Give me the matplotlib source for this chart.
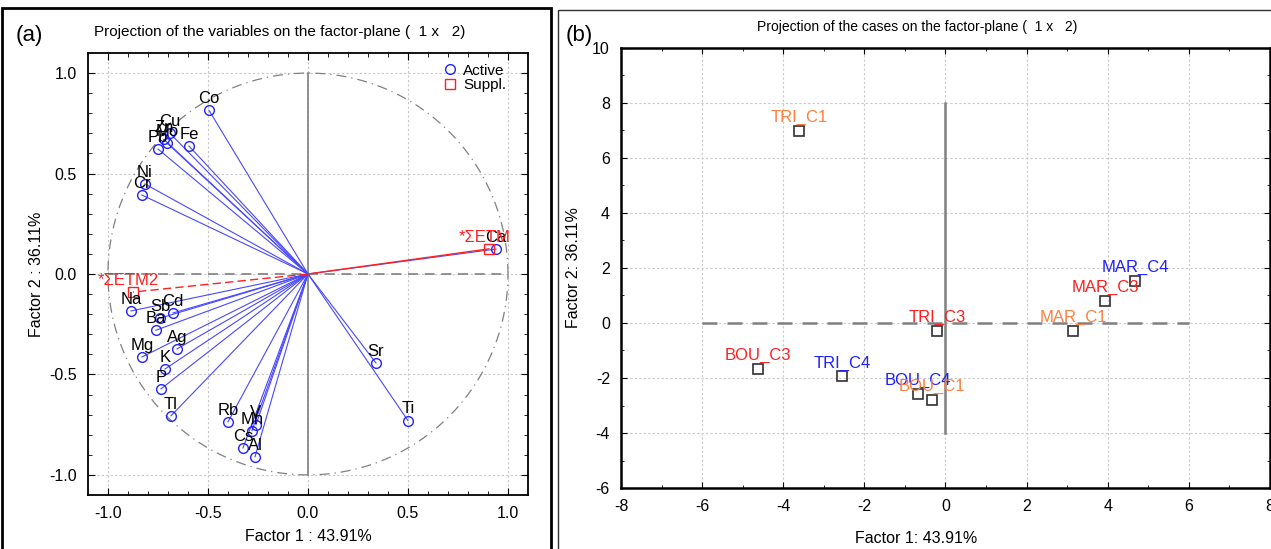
import numpy as np
import matplotlib
matplotlib.use('Agg')
import matplotlib.pyplot as plt
from matplotlib.patches import Rectangle
from matplotlib.lines import Line2D

# factor loadings of the active variables (factor 1, factor 2)
var_names = ['Co', 'Cu', 'Zn', 'Mo', 'Pb', 'Fe', 'Ni', 'Cr', 'Na', 'Sb', 'Cd', 'Ba',
             'Mg', 'Ag', 'K', 'P', 'Tl', 'Rb', 'Mn', 'V', 'Cs', 'Al', 'Sr', 'Ti', 'Ca']
var_f1 = [-0.495, -0.69, -0.72, -0.705, -0.75, -0.595, -0.815, -0.83, -0.885, -0.74, -0.675, -0.76,
          -0.83, -0.655, -0.715, -0.735, -0.685, -0.40, -0.28, -0.26, -0.325, -0.265, 0.34, 0.50, 0.94]
var_f2 = [0.815, 0.70, 0.67, 0.652, 0.622, 0.637, 0.448, 0.393, -0.184, -0.22, -0.194, -0.28,
          -0.413, -0.373, -0.473, -0.572, -0.706, -0.736, -0.78, -0.75, -0.866, -0.91, -0.443, -0.73, 0.124]

# supplementary variables
sup_names = ['*ΣETM', '*ΣETM2']
sup_f1 = [0.905, -0.875]
sup_f2 = [0.125, -0.09]

# factor scores of the cases
case_names = ['TRI_C1', 'MAR_C4', 'MAR_C3', 'MAR_C1', 'TRI_C3', 'BOU_C3', 'TRI_C4', 'BOU_C4', 'BOU_C1']
case_f1 = [-3.6, 4.68, 3.94, 3.15, -0.2, -4.63, -2.54, -0.69, -0.34]
case_f2 = [6.98, 1.53, 0.80, -0.29, -0.29, -1.67, -1.93, -2.58, -2.8]
case_site = ['C1', 'C4', 'C3', 'C1', 'C3', 'C3', 'C4', 'C4', 'C1']

site_colors = {'C1': '#ff7f3f', 'C3': '#ff1f1f', 'C4': '#1f1fff'}
BLUE = '#2222ff'
RED = '#ff2020'
GRID = '#c8c8c8'
AXLINE = '#808080'

plt.rcParams['font.family'] = ['Liberation Sans', 'DejaVu Sans']
plt.rcParams['axes.unicode_minus'] = False

fig = plt.figure(figsize=(12.71, 5.49), dpi=100)

# panel frames
fig.patches.append(Rectangle((0.0016, -0.02), 0.432, 1.0054, transform=fig.transFigure,
                             fill=False, edgecolor='black', lw=2, zorder=0))
fig.patches.append(Rectangle((0.439, -0.02), 0.6, 1.0018, transform=fig.transFigure,
                             fill=False, edgecolor='#303030', lw=1, zorder=0))

# ---------------- panel (a) ----------------
ax1 = fig.add_axes([0.0692, 0.0984, 0.3462, 0.8051])
ax1.set_xlim(-1.1, 1.1)
ax1.set_ylim(-1.1, 1.1)

t = np.linspace(0, 2 * np.pi, 400)
ax1.plot(np.cos(t), np.sin(t), color=AXLINE, lw=0.9, ls=(0, (8, 4, 1, 4)), zorder=2)
ax1.plot([0, 0], [-1, 1], color=AXLINE, lw=1.2, zorder=2)
ax1.plot([-1, 1], [0, 0], color=AXLINE, lw=1.2, ls=(0, (6, 4)), zorder=2)

for name, x, y in zip(var_names, var_f1, var_f2):
    ax1.plot([0, x], [0, y], color='#4848ff', lw=0.8, zorder=3)
    ax1.annotate(name, (x, y), xytext=(0, 3), textcoords='offset points',
                 ha='center', va='bottom', fontsize=12, color='black', zorder=5)
ax1.plot(var_f1, var_f2, 'o', mfc='none', mec=BLUE, ms=7, mew=1, zorder=4)

ax1.plot([0, sup_f1[0]], [0, sup_f2[0]], color=RED, lw=1.0, zorder=3)
ax1.plot([0, sup_f1[1]], [0, sup_f2[1]], color=RED, lw=1.0, ls=(0, (6, 3)), zorder=3)
ax1.plot(sup_f1, sup_f2, 's', mfc='none', mec=RED, ms=7, mew=1, zorder=4)
for name, x, y in zip(sup_names, sup_f1, sup_f2):
    ax1.annotate(name, (x, y), xytext=(-3, 3), textcoords='offset points',
                 ha='center', va='bottom', fontsize=12, color=RED, zorder=5)

ax1.set_xticks([-1.0, -0.5, 0.0, 0.5, 1.0])
ax1.set_yticks([-1.0, -0.5, 0.0, 0.5, 1.0])
ax1.set_xticks(np.arange(-1.0, 1.05, 0.1), minor=True)
ax1.set_yticks(np.arange(-1.0, 1.05, 0.1), minor=True)
ax1.tick_params(which='both', direction='in', top=True, right=True, labelsize=11.5)
ax1.tick_params(which='major', length=5, pad=8)
ax1.tick_params(which='minor', length=3)
ax1.grid(True, which='major', color=GRID, ls=(0, (2, 2)), lw=0.8)
ax1.set_axisbelow(True)
for s in ax1.spines.values():
    s.set_linewidth(1.3)
ax1.set_xlabel('Factor 1 : 43.91%', fontsize=11.5, labelpad=6)
ax1.set_ylabel('Factor 2 : 36.11%', fontsize=11.5, labelpad=4)
ax1.set_title('Projection of the variables on the factor-plane (  1 x   2)', fontsize=11,
              pad=12, x=0.435)

handles = [Line2D([], [], marker='o', ls='none', mfc='none', mec=BLUE, ms=7),
           Line2D([], [], marker='s', ls='none', mfc='none', mec=RED, ms=7)]
ax1.legend(handles, ['Active', 'Suppl.'], loc='upper right', frameon=False, fontsize=11,
           handletextpad=0.1, borderaxespad=0.3, labelspacing=0.05, handlelength=1.5,
           bbox_to_anchor=(0.975, 1.0))

fig.text(0.012, 0.925, '(a)', fontsize=16)

# ---------------- panel (b) ----------------
narrow = ['Liberation Sans Narrow', 'Liberation Sans', 'DejaVu Sans']
ax2 = fig.add_axes([0.4886, 0.1111, 0.5106, 0.8015])
ax2.set_xlim(-8, 8)
ax2.set_ylim(-6, 10)

ax2.plot([0, 0], [-4, 8], color=AXLINE, lw=1.8, zorder=2)
ax2.plot([-6, 6], [0, 0], color=AXLINE, lw=1.8, ls=(0, (6, 4)), zorder=2)

ax2.plot(case_f1, case_f2, 's', mfc='none', mec='#303030', ms=7, mew=1.2, zorder=4)
for name, x, y, site in zip(case_names, case_f1, case_f2, case_site):
    ax2.annotate(name, (x, y), xytext=(0, 4), textcoords='offset points',
                 ha='center', va='bottom', fontsize=12, color=site_colors[site], zorder=5)

ax2.set_xticks(np.arange(-8, 9, 2))
ax2.set_yticks(np.arange(-6, 11, 2))
ax2.set_xticks(np.arange(-8, 9, 1), minor=True)
ax2.set_yticks(np.arange(-6, 11, 1), minor=True)
ax2.tick_params(which='both', direction='in', top=True, right=True, labelsize=11.5)
ax2.tick_params(which='major', length=4, pad=8)
ax2.tick_params(which='minor', length=2)
for lab in ax2.get_xticklabels() + ax2.get_yticklabels():
    lab.set_family(narrow)
ax2.grid(True, which='major', color=GRID, ls=(0, (2, 2)), lw=0.8)
ax2.set_axisbelow(True)
for s in ax2.spines.values():
    s.set_linewidth(1.8)
ax2.set_xlabel('Factor 1: 43.91%', fontsize=11.5, family=narrow, labelpad=12, x=0.455)
ax2.set_ylabel('Factor 2: 36.11%', fontsize=11.5, family=narrow, labelpad=8)
ax2.set_title('Projection of the cases on the factor-plane (  1 x   2)', fontsize=10,
              family=narrow, pad=12, x=0.456)

fig.text(0.445, 0.925, '(b)', fontsize=16)

fig.savefig('out.png', dpi=100)
